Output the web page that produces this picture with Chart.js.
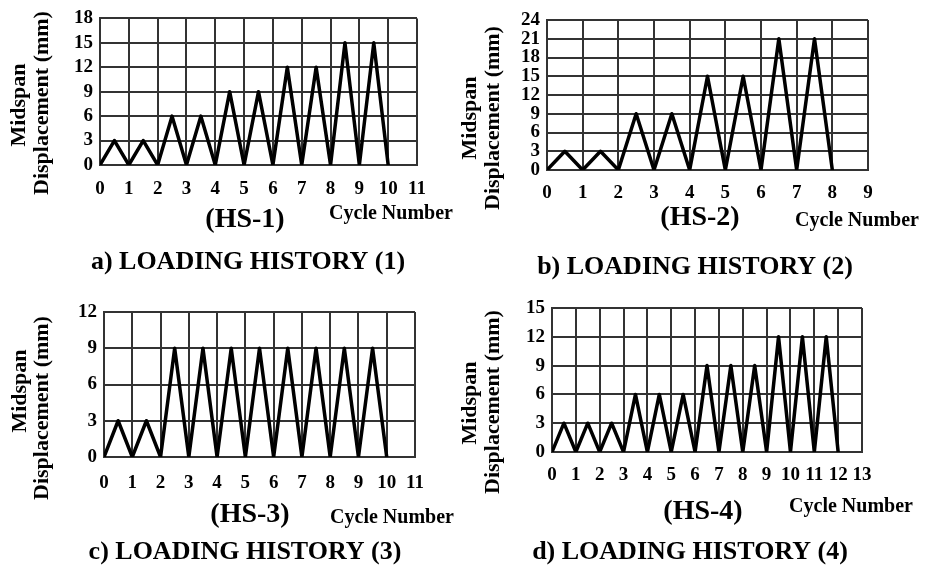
<!DOCTYPE html>
<html>
<head>
<meta charset="utf-8">
<script src="https://cdn.jsdelivr.net/npm/chart.js@4.4.1/dist/chart.umd.min.js"></script>
<style>
  html, body { margin: 0; padding: 0; background: #fff; }
  .panel { position: absolute; }
</style>
</head>
<body>
<div class="panel" style="left:0;top:0"><canvas id="hs1" width="460" height="285"></canvas></div>
<div class="panel" style="left:460px;top:0"><canvas id="hs2" width="465" height="285"></canvas></div>
<div class="panel" style="left:0;top:285px"><canvas id="hs3" width="460" height="285"></canvas></div>
<div class="panel" style="left:460px;top:285px"><canvas id="hs4" width="465" height="285"></canvas></div>
<script>
// loading histories: cycle number vs midspan displacement (mm)
const hs1Cycle = [0, 0.5, 1, 1.5, 2, 2.5, 3, 3.5, 4, 4.5, 5, 5.5, 6, 6.5, 7, 7.5, 8, 8.5, 9, 9.5, 10];
const hs1Disp  = [0, 3, 0, 3, 0, 6, 0, 6, 0, 9, 0, 9, 0, 12, 0, 12, 0, 15, 0, 15, 0];

const hs2Cycle = [0, 0.5, 1, 1.5, 2, 2.5, 3, 3.5, 4, 4.5, 5, 5.5, 6, 6.5, 7, 7.5, 8];
const hs2Disp  = [0, 3, 0, 3, 0, 9, 0, 9, 0, 15, 0, 15, 0, 21, 0, 21, 0];

const hs3Cycle = [0, 0.5, 1, 1.5, 2, 2.5, 3, 3.5, 4, 4.5, 5, 5.5, 6, 6.5, 7, 7.5, 8, 8.5, 9, 9.5, 10];
const hs3Disp  = [0, 3, 0, 3, 0, 9, 0, 9, 0, 9, 0, 9, 0, 9, 0, 9, 0, 9, 0, 9, 0];

const hs4Cycle = [0, 0.5, 1, 1.5, 2, 2.5, 3, 3.5, 4, 4.5, 5, 5.5, 6, 6.5, 7, 7.5, 8, 8.5, 9, 9.5, 10, 10.5, 11, 11.5, 12];
const hs4Disp  = [0, 3, 0, 3, 0, 3, 0, 6, 0, 6, 0, 6, 0, 9, 0, 9, 0, 9, 0, 12, 0, 12, 0, 12, 0];

// axis ranges
const xMax = [11, 9, 11, 13];
const yMax = [18, 24, 12, 15];
const yStep = 3;

const panelNames = ["(HS-1)", "(HS-2)", "(HS-3)", "(HS-4)"];
const panelTitles = ["a) LOADING HISTORY (1)", "b) LOADING HISTORY (2)", "c) LOADING HISTORY (3)", "d) LOADING HISTORY (4)"];
const yTitle = ["Midspan", "Displacement (mm)"];
const xTitle = "Cycle Number";

const FONT = "'Liberation Serif', 'Times New Roman', serif";
const GRID = "#333";

function captions(items) {
  return {
    id: "captions",
    afterDraw(chart) {
      const ctx = chart.ctx;
      items.forEach(it => {
        ctx.save();
        ctx.font = "bold " + it.size + "px " + FONT;
        ctx.fillStyle = "#000";
        ctx.textAlign = "center";
        ctx.textBaseline = "middle";
        ctx.translate(it.x, it.y);
        if (it.rotate) ctx.rotate(-Math.PI / 2);
        ctx.fillText(it.text, 0, 0);
        ctx.restore();
      });
    }
  };
}

function makeChart(id, xs, ys, i, area, tickPad, labels) {
  const canvas = document.getElementById(id);
  const W = canvas.width, H = canvas.height;
  const xAxisH = 40;
  const points = xs.map((x, k) => ({ x: x, y: ys[k] }));

  new Chart(canvas.getContext("2d"), {
    type: "line",
    data: {
      datasets: [{
        data: points,
        borderColor: "#000",
        borderWidth: 3.5,
        borderJoinStyle: "round",
        borderCapStyle: "round",
        pointRadius: 0,
        tension: 0,
        fill: false
      }]
    },
    options: {
      responsive: false,
      animation: false,
      layout: {
        autoPadding: false,
        padding: { left: 0, top: area.top, right: W - area.right, bottom: H - area.bottom - xAxisH }
      },
      plugins: { legend: { display: false }, tooltip: { enabled: false } },
      scales: {
        x: {
          type: "linear",
          min: 0,
          max: xMax[i],
          afterFit: s => { s.height = xAxisH; },
          ticks: {
            stepSize: 1,
            padding: tickPad,
            color: "#000",
            maxRotation: 0,
            autoSkip: false,
            font: { family: FONT, size: 19, weight: "bold" }
          },
          grid: { color: GRID, lineWidth: 2, drawTicks: false },
          border: { color: GRID, width: 2 }
        },
        y: {
          min: 0,
          max: yMax[i],
          afterFit: s => { s.width = area.left; },
          ticks: {
            stepSize: yStep,
            padding: 7,
            color: "#000",
            autoSkip: false,
            font: { family: FONT, size: 19, weight: "bold" }
          },
          grid: { color: GRID, lineWidth: 2, drawTicks: false },
          border: { color: GRID, width: 2 }
        }
      }
    },
    plugins: [captions(labels)]
  });
}

makeChart("hs1", hs1Cycle, hs1Disp, 0, { left: 100, top: 17, right: 417, bottom: 165 }, 13, [
  { text: yTitle[0], x: 19, y: 105, size: 22, rotate: true },
  { text: yTitle[1], x: 42, y: 103, size: 22, rotate: true },
  { text: panelNames[0], x: 245, y: 220, size: 28 },
  { text: xTitle, x: 391, y: 214, size: 20 },
  { text: panelTitles[0], x: 248, y: 262, size: 26 }
]);

makeChart("hs2", hs2Cycle, hs2Disp, 1, { left: 87, top: 20, right: 408, bottom: 170 }, 12, [
  { text: yTitle[0], x: 10, y: 118, size: 22, rotate: true },
  { text: yTitle[1], x: 33, y: 118, size: 22, rotate: true },
  { text: panelNames[1], x: 240, y: 218, size: 28 },
  { text: xTitle, x: 397, y: 221, size: 20 },
  { text: panelTitles[1], x: 235, y: 267, size: 26 }
]);

makeChart("hs3", hs3Cycle, hs3Disp, 2, { left: 104, top: 27, right: 415, bottom: 172 }, 15, [
  { text: yTitle[0], x: 20, y: 106, size: 22, rotate: true },
  { text: yTitle[1], x: 42, y: 123, size: 22, rotate: true },
  { text: panelNames[2], x: 250, y: 230, size: 28 },
  { text: xTitle, x: 392, y: 233, size: 20 },
  { text: panelTitles[2], x: 245, y: 267, size: 26 }
]);

makeChart("hs4", hs4Cycle, hs4Disp, 3, { left: 92, top: 23, right: 402, bottom: 167 }, 12, [
  { text: yTitle[0], x: 10, y: 118, size: 22, rotate: true },
  { text: yTitle[1], x: 33, y: 117, size: 22, rotate: true },
  { text: panelNames[3], x: 243, y: 227, size: 28 },
  { text: xTitle, x: 391, y: 222, size: 20 },
  { text: panelTitles[3], x: 230, y: 267, size: 26 }
]);
</script>
</body>
</html>
